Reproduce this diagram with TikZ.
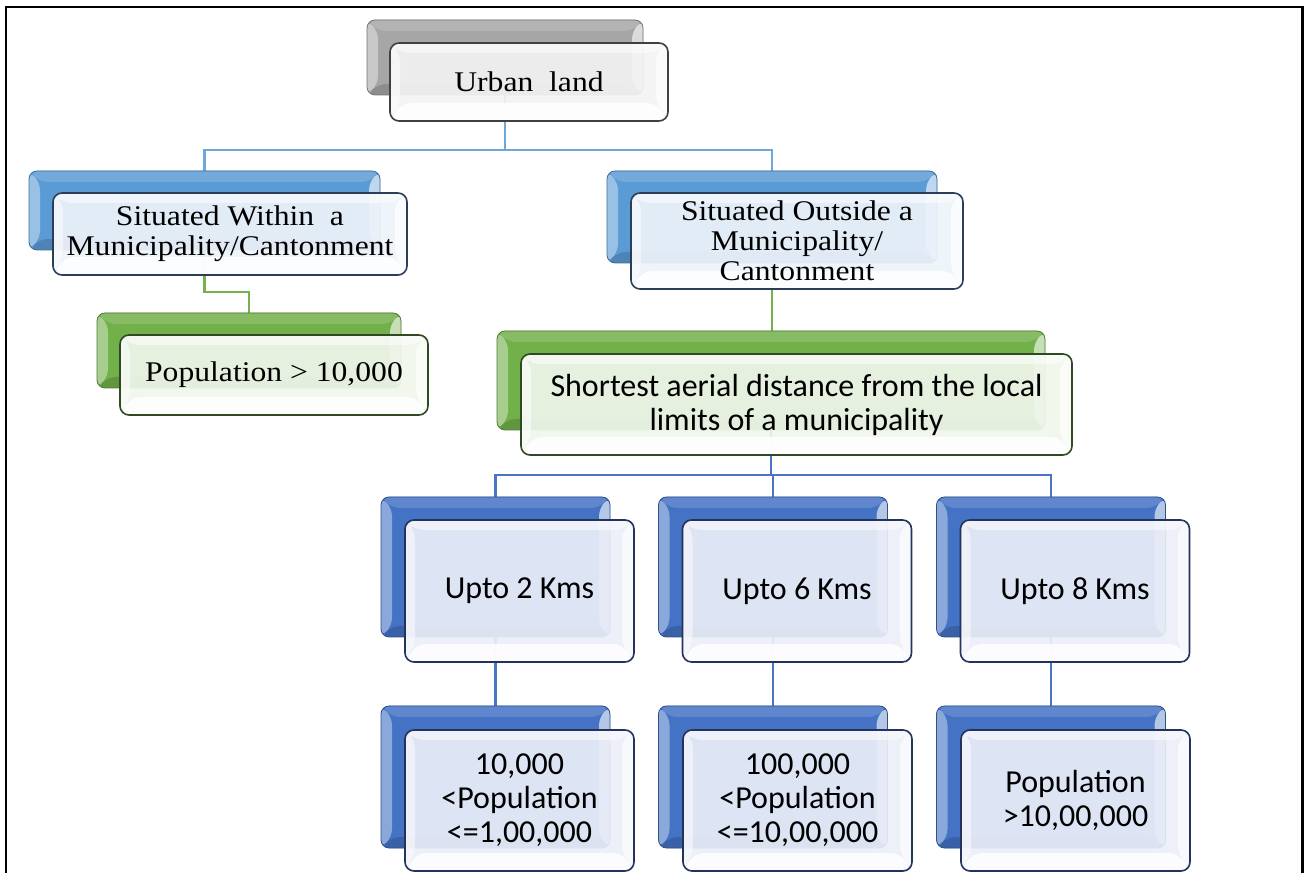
\documentclass[tikz,border=0pt]{standalone}
\usepackage{fontspec}
\newfontfamily\serifcard[FakeStretch=1.11]{Liberation Serif}
\newfontfamily\sanscard{Carlito}
\usetikzlibrary{calc}
\pgfdeclarelayer{background}
\pgfsetlayers{background,main}

\definecolor{grayA}{HTML}{A6A6A6}
\definecolor{blueA}{HTML}{5B9BD5}
\definecolor{greenA}{HTML}{72B04A}
\definecolor{blueB}{HTML}{4472C4}
\definecolor{lineA}{HTML}{6FA6DC}
\definecolor{lineG}{HTML}{74B24C}
\definecolor{lineB}{HTML}{4A76C8}
\definecolor{tintGray}{HTML}{F3F3F3}
\definecolor{tintBlueA}{HTML}{EEF3FA}
\definecolor{tintGreen}{HTML}{F0F6EC}
\definecolor{tintBlueB}{HTML}{EBEEF8}
\definecolor{edgeGray}{HTML}{404040}
\definecolor{edgeBlueA}{HTML}{2B3E58}
\definecolor{edgeGreen}{HTML}{2F4A22}
\definecolor{edgeBlueB}{HTML}{23335C}

\tikzset{
  % coloured card at the back, with a bevelled rim
  backcard/.style={
    draw=#1!70!black, line width=0.8pt, fill=#1, rounded corners=8pt,
    inner sep=0pt, outer sep=0pt,
    path picture={
      \fill[#1!62!white]
        (path picture bounding box.north west) --
        ([shift={(11pt,-11pt)}]path picture bounding box.north west) --
        ([shift={(11pt,11pt)}]path picture bounding box.south west) --
        (path picture bounding box.south west) -- cycle;
      \fill[#1!85!white]
        (path picture bounding box.north west) --
        (path picture bounding box.north east) --
        ([shift={(-11pt,-11pt)}]path picture bounding box.north east) --
        ([shift={(11pt,-11pt)}]path picture bounding box.north west) -- cycle;
      \fill[#1!40!white]
        (path picture bounding box.north east) --
        (path picture bounding box.south east) --
        ([shift={(-11pt,11pt)}]path picture bounding box.south east) --
        ([shift={(-11pt,-11pt)}]path picture bounding box.north east) -- cycle;
      \fill[#1!85!black]
        (path picture bounding box.south west) --
        (path picture bounding box.south east) --
        ([shift={(-11pt,11pt)}]path picture bounding box.south east) --
        ([shift={(11pt,11pt)}]path picture bounding box.south west) -- cycle;
    }},
  % translucent white card in front, carrying the text
  frontcard/.style 2 args={
    draw=#2, line width=1.6pt, fill=#1, fill opacity=0.92, text opacity=1,
    rounded corners=9pt, inner sep=0pt, outer sep=0pt, align=center,
    path picture={
      \fill[white, opacity=0.85]
        (path picture bounding box.south west) --
        (path picture bounding box.south east) --
        ([shift={(-12pt,18pt)}]path picture bounding box.south east) --
        ([shift={(12pt,18pt)}]path picture bounding box.south west) -- cycle;
      \fill[white, opacity=0.65]
        (path picture bounding box.south east) --
        (path picture bounding box.north east) --
        ([shift={(-12pt,-10pt)}]path picture bounding box.north east) --
        ([shift={(-12pt,18pt)}]path picture bounding box.south east) -- cycle;
      \fill[white, opacity=0.5]
        (path picture bounding box.south west) --
        (path picture bounding box.north west) --
        ([shift={(10pt,-10pt)}]path picture bounding box.north west) --
        ([shift={(10pt,18pt)}]path picture bounding box.south west) -- cycle;
      \fill[white, opacity=0.5]
        (path picture bounding box.north west) --
        (path picture bounding box.north east) --
        ([shift={(-12pt,-10pt)}]path picture bounding box.north east) --
        ([shift={(10pt,-10pt)}]path picture bounding box.north west) -- cycle;
    }},
  seriftext/.style={font=\serifcard\fontsize{28.5}{30}\selectfont},
  sanstext/.style={font=\sanscard\fontsize{32}{34}\selectfont},
  link/.style={draw=#1, line width=2.4pt},
}

\begin{document}
\begin{tikzpicture}[x=1pt, y=1pt]
\useasboundingbox (0,0) rectangle (1306,873);

% page frame (open at the bottom)
\draw[line width=2.2pt] (6,0) -- (6,866) -- (1302.5,866) -- (1302.5,0);

% ---- level 1
\node[backcard=grayA, minimum width=276pt, minimum height=75pt] (ub) at (505,815.5) {};
\node[frontcard={tintGray}{edgeGray}, seriftext, minimum width=278pt, minimum height=78pt] (uf) at (529,791) {Urban\ \ land};

% ---- level 2
\node[backcard=blueA, minimum width=351pt, minimum height=79pt] (wb) at (204.5,662.5) {};
\node[frontcard={tintBlueA}{edgeBlueA}, seriftext, minimum width=354pt, minimum height=82pt] (wf) at (230,639)
  {Situated Within\ \ a\\Municipality/Cantonment};

\node[backcard=blueA, minimum width=330pt, minimum height=92pt] (ob) at (772,656) {};
\node[frontcard={tintBlueA}{edgeBlueA}, seriftext, minimum width=332pt, minimum height=96pt] (of) at (797,632)
  {Situated Outside a\\Municipality/\\Cantonment};

% ---- level 3
\node[backcard=greenA, minimum width=304pt, minimum height=75pt] (pb) at (249,522.5) {};
\node[frontcard={tintGreen}{edgeGreen}, seriftext, minimum width=308pt, minimum height=80pt] (pf) at (274,498)
  {Population > 10,000};

\node[backcard=greenA, minimum width=548pt, minimum height=99pt] (sb) at (771,492.5) {};
\node[frontcard={tintGreen}{edgeGreen}, sanstext, minimum width=551pt, minimum height=101pt] (sf) at (796.5,468.5)
  {Shortest aerial distance from the local\\limits of a municipality};

% ---- level 4
\foreach \nm/\cx/\txt in {a/495.5/Upto 2 Kms, b/773/Upto 6 Kms, c/1051/Upto 8 Kms}{
  \node[backcard=blueB, minimum width=229pt, minimum height=140pt] (k\nm b) at (\cx,306) {};
  \node[frontcard={tintBlueB}{edgeBlueB}, sanstext, minimum width=229pt, minimum height=142pt] (k\nm f)
    at ($(\cx,306)+(24,-24)$) {\txt};
}

% ---- level 5
\node[backcard=blueB, minimum width=229pt, minimum height=142pt] (pab) at (495.5,96) {};
\node[frontcard={tintBlueB}{edgeBlueB}, sanstext, minimum width=229pt, minimum height=141pt] (paf) at (519.5,72.5)
  {10,000\\<Population\\<=1,00,000};
\node[backcard=blueB, minimum width=229pt, minimum height=142pt] (pbb) at (773,96) {};
\node[frontcard={tintBlueB}{edgeBlueB}, sanstext, minimum width=229pt, minimum height=141pt] (pbf) at (797.5,72.5)
  {100,000\\<Population\\<=10,00,000};
\node[backcard=blueB, minimum width=229pt, minimum height=142pt] (pcb) at (1051,96) {};
\node[frontcard={tintBlueB}{edgeBlueB}, sanstext, minimum width=229pt, minimum height=141pt] (pcf) at (1075.5,72.5)
  {Population\\>10,00,000};

% ---- connectors, behind the cards
\begin{pgfonlayer}{background}
  \coordinate (busA) at (505,723);
  \draw[link=lineA] (ub.south) -- (ub.south |- busA) -| (wb.north);
  \draw[link=lineA] (ub.south |- busA) -| (ob.north);

  \coordinate (busG) at (204.5,581);
  \draw[link=lineG] (wb.south) -- (wb.south |- busG) -| (pb.north);
  \draw[link=lineG] (ob.south) -- (ob.south |- sb.north);

  \coordinate (busB) at (771,398);
  \draw[link=lineB] (sb.south) -- (sb.south |- busB) -| (kab.north);
  \draw[link=lineB] (sb.south |- busB) -| (kbb.north);
  \draw[link=lineB] (sb.south |- busB) -| (kcb.north);

  \draw[link=lineB] (kab.south) -- (pab.north);
  \draw[link=lineB] (kbb.south) -- (pbb.north);
  \draw[link=lineB] (kcb.south) -- (pcb.north);
\end{pgfonlayer}
\end{tikzpicture}
\end{document}
